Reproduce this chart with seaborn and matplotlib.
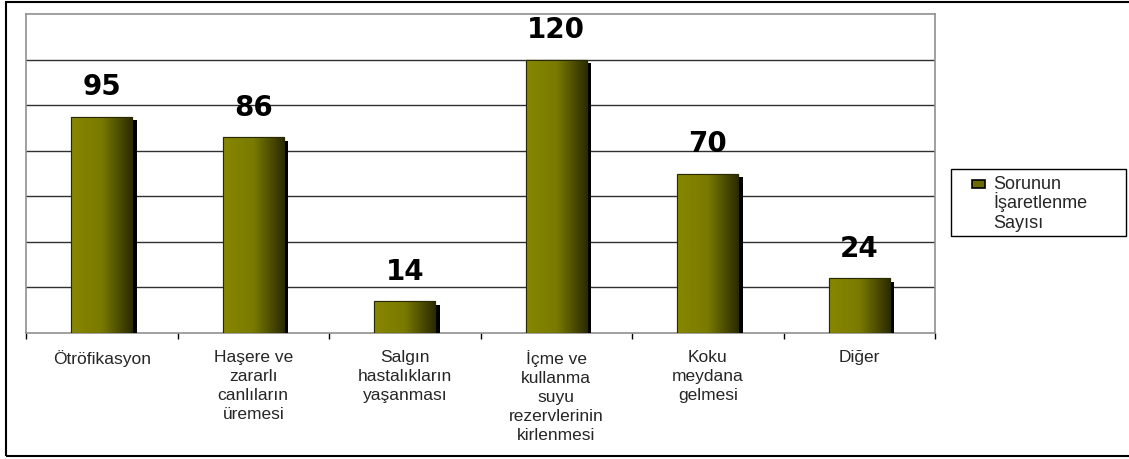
import numpy as np
import matplotlib
matplotlib.use('Agg')
import matplotlib.pyplot as plt
import matplotlib.patheffects as pe
from matplotlib.colors import LinearSegmentedColormap
from matplotlib.patches import Rectangle
import seaborn as sns

categories = ["Ötröfikasyon", "Haşere ve\nzararlı\ncanlıların\nüremesi",
              "Salgın\nhastalıkların\nyaşanması",
              "İçme ve\nkullanma\nsuyu\nrezervlerinin\nkirlenmesi",
              "Koku\nmeydana\ngelmesi", "Diğer"]
counts = [95, 86, 14, 120, 70, 24]
series_lines = ["Sorunun", "İşaretlenme", "Sayısı"]

sns.set_theme(style="white")
plt.rcParams['font.family'] = ['Liberation Sans', 'DejaVu Sans']

W, H = 1129, 459
fig = plt.figure(figsize=(W / 100, H / 100), dpi=100)
ax = fig.add_axes([26 / W, 1 - 333 / H, (935 - 26) / W, (333 - 14) / H])

sns.barplot(x=list(range(len(counts))), y=counts, color="#808000", width=0.4,
            ax=ax, edgecolor="#2a2a00", linewidth=0.8, zorder=3)

# gradient fill + drop shadow on each bar
cmap = LinearSegmentedColormap.from_list("olive", ["#878700", "#7a7a00", "#2c2c00"])
grad = np.linspace(0, 1, 256).reshape(1, -1)
for bar in ax.patches:
    x0, y0 = bar.get_x(), bar.get_y()
    w, h = bar.get_width(), bar.get_height()
    bar.set_path_effects([pe.SimplePatchShadow(offset=(3.5, -2.5), shadow_rgbFace="black", alpha=1.0),
                          pe.Normal()])
    im = ax.imshow(grad, cmap=cmap, aspect="auto", extent=[x0, x0 + w, y0, y0 + h],
                   zorder=3.5, interpolation="bilinear")
    im.set_clip_path(bar)
    ax.add_patch(Rectangle((x0, y0), w, h, fill=False, edgecolor="#2a2a00", linewidth=0.8, zorder=4))

for i, v in enumerate(counts):
    ax.annotate(str(v), (i, v), xytext=(0, 11), textcoords="offset points",
                ha="center", va="bottom", fontsize=20, fontweight="bold",
                family="DejaVu Sans", color="black")

ax.set_xlim(-0.5, len(counts) - 0.5)
ax.set_ylim(0, 140)
ax.set_yticks(np.arange(20, 140, 20))
ax.set_yticklabels([])
ax.tick_params(axis="y", length=0)
ax.yaxis.grid(True, color="#303030", linewidth=1)
ax.set_axisbelow(True)

ax.set_xticks(range(len(counts)))
ax.set_xticklabels(categories, fontsize=12.5, linespacing=1.35, va="top")
ax.set_xticks(np.arange(-0.5, len(counts), 1), minor=True)
ax.tick_params(axis="x", which="major", length=0, pad=12)
ax.tick_params(axis="x", which="minor", length=4, width=1, color="black", bottom=True, direction="out")

for s in ["left", "top", "right", "bottom"]:
    ax.spines[s].set_color("#909090")
    ax.spines[s].set_linewidth(1.2)

# legend box drawn by hand so the swatch sits on the first text line
fig.add_artist(Rectangle((951 / W, 1 - 236 / H), (1126 - 951) / W, (236 - 169) / H,
                         transform=fig.transFigure, facecolor="white", edgecolor="black", linewidth=1))
fig.add_artist(Rectangle((972 / W, 1 - 188 / H), 13 / W, 8 / H, transform=fig.transFigure,
                         facecolor="#6a6a00", edgecolor="black", linewidth=1.2))
for k, line in enumerate(series_lines):
    fig.text(993 / W, 1 - (189 + 19.5 * k) / H, line, fontsize=13, ha="left", va="baseline")

# outer chart border (left, top, bottom visible)
fig.add_artist(Rectangle((5.5 / W, 3 / H), 1.2, 1 - 5 / H, transform=fig.transFigure,
                         fill=False, edgecolor="black", linewidth=1.5))

fig.savefig("out.png", dpi=100)
